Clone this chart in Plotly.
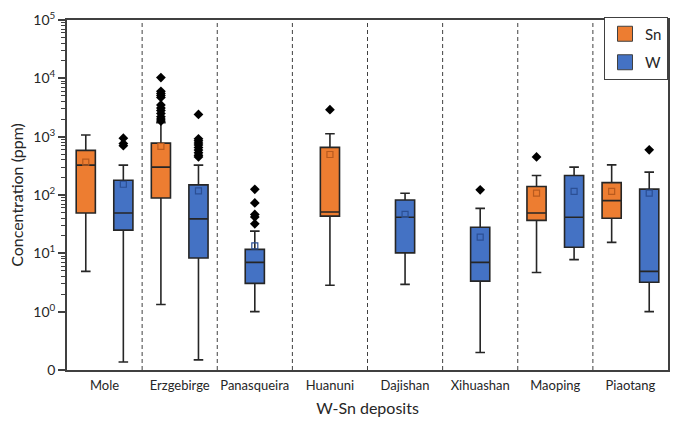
import plotly.graph_objects as go

deposits = ["Mole", "Erzgebirge", "Panasqueira", "Huanuni", "Dajishan",
            "Xihuashan", "Maoping", "Piaotang"]

# Sn statistics (None = no data)
sn_q1 = [49, 89, None, 43.5, None, None, 36.8, 40]
sn_median = [325, 300, None, 51, None, None, 49, 80]
sn_q3 = [582, 775, None, 655, None, None, 140, 163]
sn_lower = [4.9, 1.33, None, 2.83, None, None, 4.7, 15.4]
sn_upper = [1070, 1740, None, 1120, None, None, 216, 328]
sn_mean = [365, 680, None, 495, None, None, 108, 115]
sn_outliers = [[], [10300, 6000, 5500, 5100, 4700, 3500, 3100, 2800, 2500, 2200, 2000, 1850],
               [], [2900], [], [], [450], []]

# W statistics
w_q1 = [25, 8.3, 3.05, None, 10.2, 3.34, 12.7, 3.2]
w_median = [49, 39, 7.0, None, 41.5, 7.0, 41.5, 4.9]
w_q3 = [179, 149, 11.7, None, 82, 28, 216, 126]
w_lower = [0.137, 0.149, 1.0, None, 2.94, 0.2, 7.8, 1.0]
w_upper = [325, 325, 24, None, 107, 59, 300, 247]
w_mean = [153, 118, 13.4, None, 46.5, 19, 115, 108]
w_outliers = [[940, 760, 700], [2400, 920, 850, 780, 720, 650, 590, 530, 480, 450],
              [125, 73, 46.5, 42, 32], [], [], [123], [], [596]]

ytick_vals = [0.1, 1, 10, 100, 1000, 10000, 100000]
ytick_text = ["0", "10<sup>0</sup>", "10<sup>1</sup>", "10<sup>2</sup>",
              "10<sup>3</sup>", "10<sup>4</sup>", "10<sup>5</sup>"]

SN_FILL, SN_MEAN = "#ED7D31", "#B85A1E"
W_FILL, W_MEAN = "#4472C4", "#2B4F94"
LINE = "#262626"
OFFSET = 0.25
BOXW = 0.255

fig = go.Figure()

series = [
    ("Sn", sn_q1, sn_median, sn_q3, sn_lower, sn_upper, sn_mean, sn_outliers, SN_FILL, SN_MEAN, -1),
    ("W", w_q1, w_median, w_q3, w_lower, w_upper, w_mean, w_outliers, W_FILL, W_MEAN, 1),
]

for name, q1, med, q3, lo, up, mean, outl, fill, mcol, sign in series:
    for i in range(len(deposits)):
        if q1[i] is None:
            continue
        other = sn_q1 if name == "W" else w_q1
        pos = i + 0.5 + (sign * OFFSET if other[i] is not None else 0)
        fig.add_trace(go.Box(
            x=[pos], q1=[q1[i]], median=[med[i]], q3=[q3[i]],
            lowerfence=[lo[i]], upperfence=[up[i]],
            width=BOXW, whiskerwidth=0.5, boxpoints=False,
            fillcolor=fill, line=dict(color=LINE, width=1.6),
            showlegend=False, hoverinfo="skip",
        ))
        fig.add_trace(go.Scatter(
            x=[pos], y=[mean[i]], mode="markers",
            marker=dict(symbol="square-open", size=6, color=mcol, line=dict(width=1.2, color=mcol)),
            showlegend=False, hoverinfo="skip",
        ))
        if outl[i]:
            fig.add_trace(go.Scatter(
                x=[pos] * len(outl[i]), y=outl[i], mode="markers",
                marker=dict(symbol="diamond", size=7.5, color="black"),
                showlegend=False, hoverinfo="skip",
            ))

# legend entries
for name, fill, grp in [("Sn", SN_FILL, "a"), ("W", W_FILL, "b")]:
    fig.add_trace(go.Scatter(
        x=[None], y=[None], mode="markers", name=name, legendgroup=grp,
        marker=dict(symbol="square", size=15, color=fill, line=dict(color="#404040", width=1)),
    ))

# dashed separators
for k in range(1, len(deposits)):
    fig.add_shape(type="line", x0=k, x1=k, y0=0, y1=1, xref="x", yref="paper",
                  line=dict(color="#404040", width=1, dash="4px,3px"))

font_family = "Lato, Open Sans, sans-serif"

fig.update_layout(
    width=679, height=426,
    margin=dict(l=67, r=9, t=15, b=56),
    plot_bgcolor="white", paper_bgcolor="white",
    font=dict(family=font_family, color="#262626", size=13),
    legend=dict(x=1, xanchor="right", y=1.01, yanchor="top",
                bordercolor="#404040", borderwidth=1, bgcolor="white",
                font=dict(size=15), tracegroupgap=6, itemwidth=30),
    xaxis=dict(
        range=[0, len(deposits)],
        tickmode="array", tickvals=[i + 0.5 for i in range(len(deposits))],
        ticktext=deposits, ticks="", showgrid=False, zeroline=False,
        showline=True, linecolor="#404040", linewidth=1.5, mirror=True,
        title=dict(text="W-Sn deposits", font=dict(size=16), standoff=10),
        tickfont=dict(size=13), ticklabelstandoff=3,
    ),
    yaxis=dict(
        type="log", range=[-1, 5],
        tickmode="array", tickvals=ytick_vals, ticktext=ytick_text,
        ticks="outside", ticklen=7, tickcolor="#404040", tickwidth=1.5,
        minor=dict(tickmode="array",
                   tickvals=[m * 10 ** e for e in range(0, 5) for m in range(2, 10)],
                   ticks="outside", ticklen=4, tickcolor="#404040", tickwidth=1),
        showgrid=False, zeroline=False,
        showline=True, linecolor="#404040", linewidth=1.8, mirror=True,
        title=dict(text="Concentration (ppm)", font=dict(size=16), standoff=6),
        tickfont=dict(size=14),
    ),
)

fig.write_html("out.html", post_script="document.body.style.margin='0';",
               config={"displayModeBar": False})
